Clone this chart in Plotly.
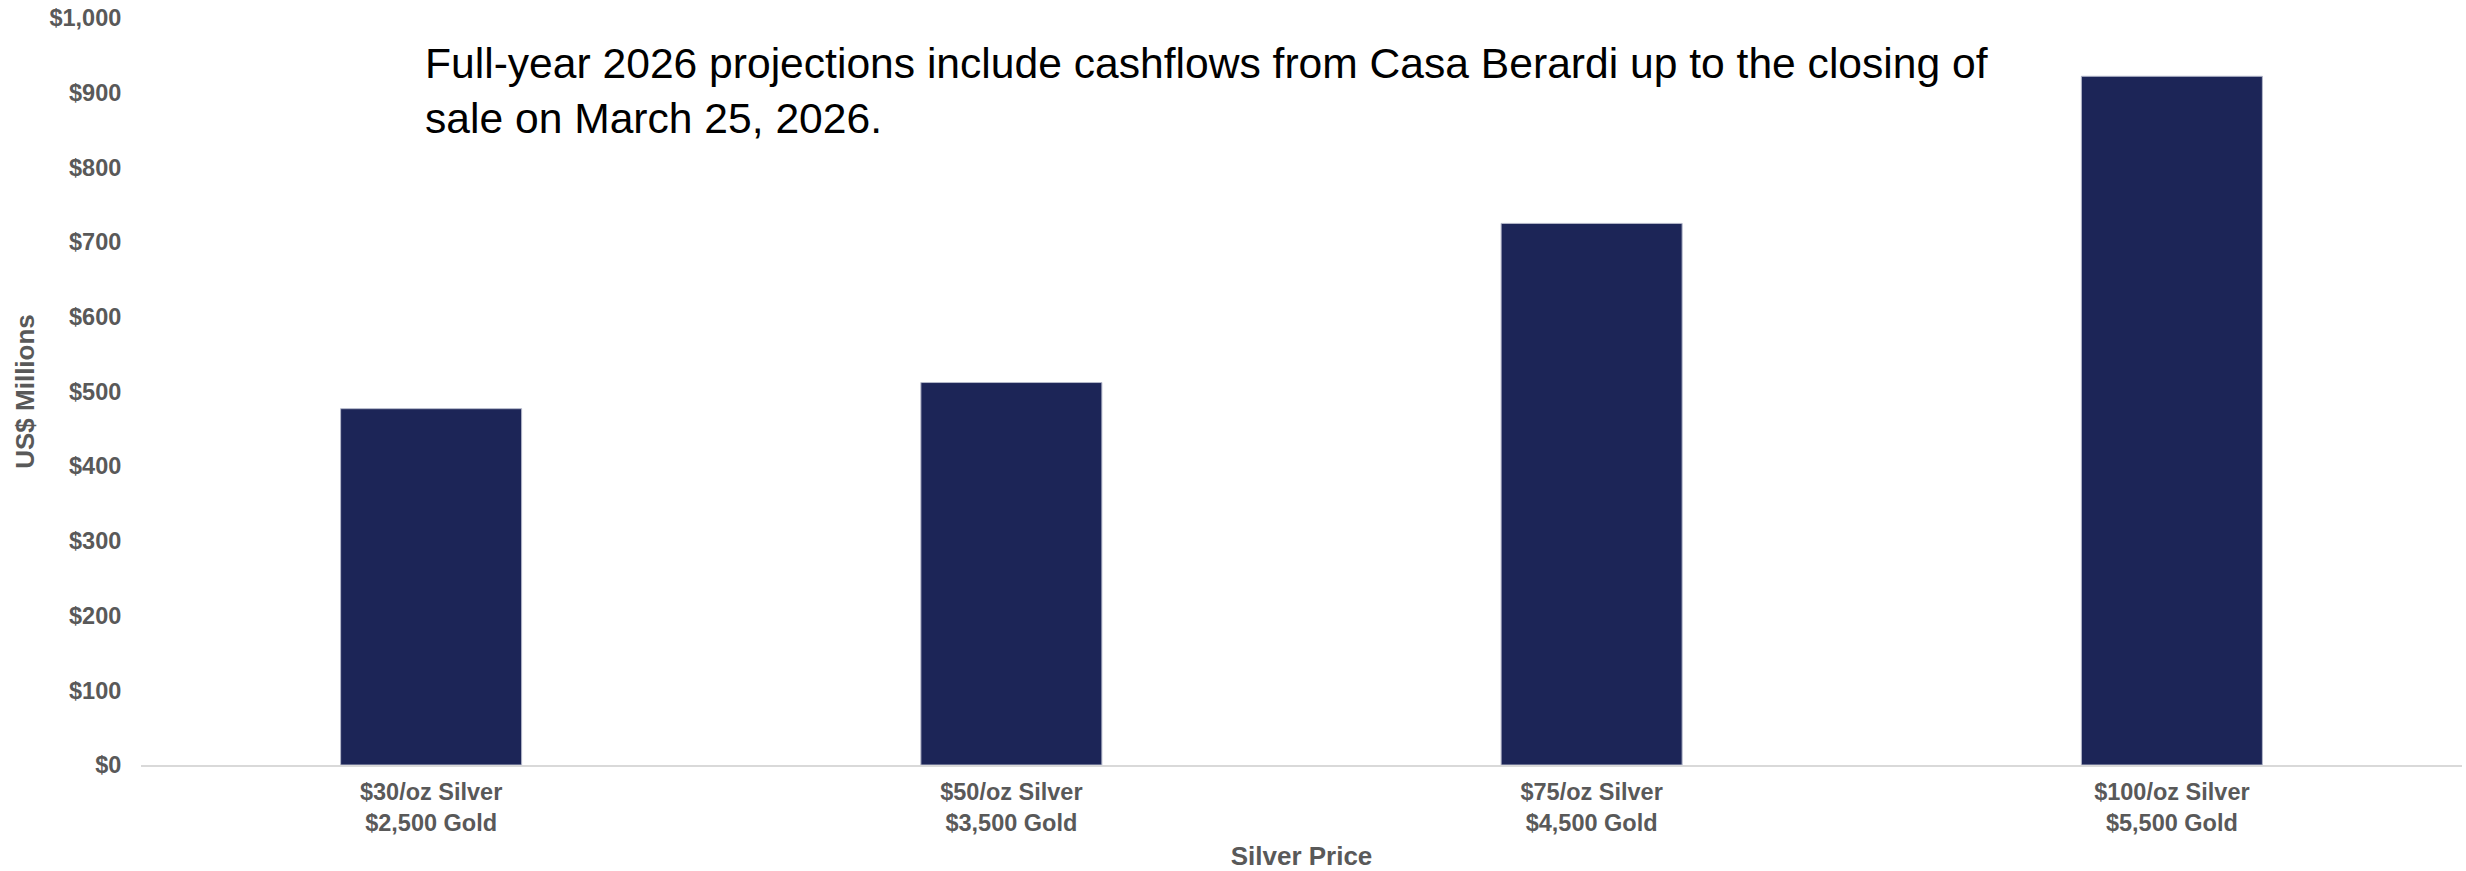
import plotly.graph_objects as go

categories = ["$30/oz Silver<br>$2,500 Gold", "$50/oz Silver<br>$3,500 Gold",
              "$75/oz Silver<br>$4,500 Gold", "$100/oz Silver<br>$5,500 Gold"]
values = [477, 512, 725, 922]
y_tickvals = [0, 100, 200, 300, 400, 500, 600, 700, 800, 900, 1000]
y_ticktext = ["$0", "$100", "$200", "$300", "$400", "$500", "$600", "$700", "$800", "$900", "$1,000"]
note = "Full-year 2026 projections include cashflows from Casa Berardi up to the closing of<br>sale on March 25, 2026."

W, H = 2466, 871
L, R, T, B = 141, 4, 18, 106

fig = go.Figure(go.Bar(
    x=categories, y=values,
    marker=dict(color="#1C2557", line=dict(color="#B4B8CA", width=1)),
    hoverinfo="skip",
))

tick_font = dict(family="Liberation Sans, Arial, sans-serif", size=23.5, color="#595959")
title_font = dict(family="Liberation Sans, Arial, sans-serif", size=26, color="#595959")

fig.update_layout(
    width=W, height=H,
    margin=dict(l=L, r=R, t=T, b=B, pad=0),
    plot_bgcolor="white", paper_bgcolor="white",
    bargap=0.688,
    showlegend=False,
    xaxis=dict(
        showline=True, linecolor="#D9D9D9", linewidth=2,
        showgrid=False, zeroline=False,
        ticks="outside", ticklen=5, tickcolor="rgba(0,0,0,0)",
        tickfont=dict(family="Liberation Sans, Arial, sans-serif", size=23.5, color="#595959", weight="bold"),
        title=dict(text="<b>Silver Price</b>", font=title_font, standoff=18),
        automargin=False,
    ),
    yaxis=dict(
        range=[0, 1000],
        tickvals=y_tickvals, ticktext=[f"<b>{t}</b>" for t in y_ticktext],
        showgrid=False, zeroline=False, showline=False,
        ticks="outside", ticklen=14, tickcolor="rgba(0,0,0,0)",
        tickfont=tick_font,
        title=dict(text="<b>US$ Millions</b>", font=title_font, standoff=7),
        automargin=False,
    ),
    annotations=[dict(
        text=note, xref="paper", yref="paper",
        x=(423 - L) / (W - L - R), y=1 - (37 - T) / (H - T - B),
        xanchor="left", yanchor="top", align="left", showarrow=False,
        font=dict(family="Liberation Sans, Arial, sans-serif", size=42.6, color="#000000"),
    )],
)

fig.write_html("out.html", config={"displayModeBar": False},
               post_script="document.body.style.margin='0';document.body.style.overflow='hidden';")
